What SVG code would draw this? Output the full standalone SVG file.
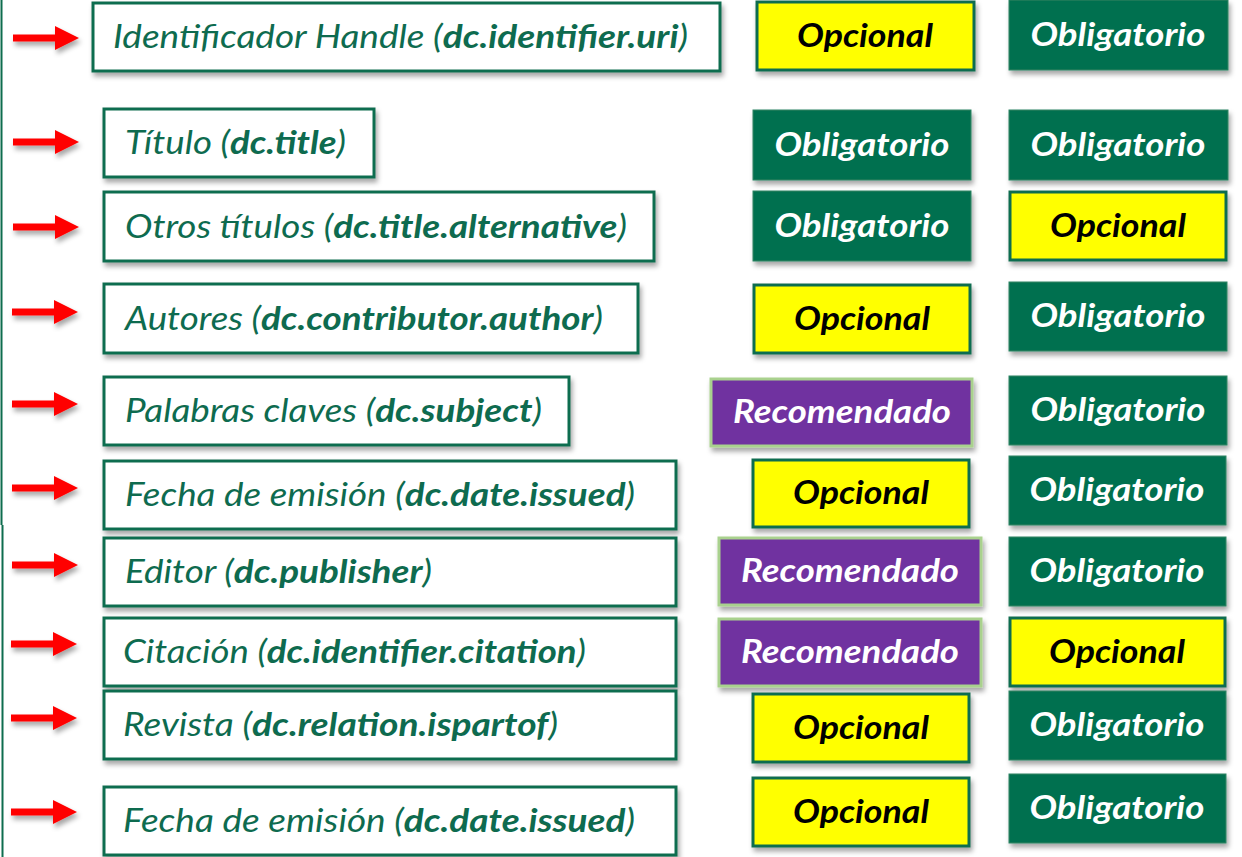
<svg xmlns="http://www.w3.org/2000/svg" xmlns:xlink="http://www.w3.org/1999/xlink" width="1242" height="857" viewBox="0 0 1242 857">
<style>
.box{fill:#fff;stroke:#0e6d4f;stroke-width:3;filter:url(#sh)}
.lbl{font-family:Lato,"Open Sans","Liberation Sans",sans-serif;font-style:italic;font-size:33px;fill:#0e6b4f}
.lbl tspan.b{font-weight:bold}
.g{fill:#06704f;stroke:#2f8464;stroke-width:1;filter:url(#sh)}
.y{fill:#ffff00;stroke:#0e6d4f;stroke-width:3;filter:url(#sh)}
.p{fill:#7030a0;stroke:#a9d18e;stroke-width:3;filter:url(#sh)}
.bt{font-family:Lato,"Open Sans","Liberation Sans",sans-serif;font-style:italic;font-weight:bold;font-size:33px;text-anchor:middle}
.w{fill:#fff}.k{fill:#000}
.arr{fill:#ff0000;filter:url(#sh)}
</style>
<defs>
<filter id="sh" x="-10%" y="-20%" width="130%" height="150%">
<feDropShadow dx="2" dy="4" stdDeviation="2.5" flood-color="#000" flood-opacity="0.35"/>
</filter>
<path id="arrow" d="M0,-3.5 H42 V-12 L66,0 L42,12 V3.5 H0 Z"/>
</defs>
<rect width="1242" height="857" fill="#fff"/>
<path d="M1.5,0 V525 M2.5,525 V857" stroke="#0e6d4f" stroke-width="2" fill="none"/>

<g id="connectors">
<use xlink:href="#arrow" class="arr" x="13" y="38"/>
<use xlink:href="#arrow" class="arr" x="13" y="142"/>
<use xlink:href="#arrow" class="arr" x="13" y="227"/>
<use xlink:href="#arrow" class="arr" x="12" y="312"/>
<use xlink:href="#arrow" class="arr" x="12" y="404"/>
<use xlink:href="#arrow" class="arr" x="12" y="488"/>
<use xlink:href="#arrow" class="arr" x="12" y="565"/>
<use xlink:href="#arrow" class="arr" x="11" y="644"/>
<use xlink:href="#arrow" class="arr" x="11" y="718"/>
<use xlink:href="#arrow" class="arr" x="11" y="812"/>
</g>

<g id="f1"><rect class="box" x="93" y="3" width="627" height="68"/><text class="lbl" x="113" y="48" textLength="575" lengthAdjust="spacingAndGlyphs">Identificador Handle (<tspan class="b">dc.identifier.uri</tspan>)</text></g>
<g id="f2"><rect class="box" x="104" y="109" width="270" height="68"/><text class="lbl" x="125" y="154" textLength="221" lengthAdjust="spacingAndGlyphs">Título (<tspan class="b">dc.title</tspan>)</text></g>
<g id="f3"><rect class="box" x="104" y="192" width="550" height="69"/><text class="lbl" x="125" y="238" textLength="502" lengthAdjust="spacingAndGlyphs">Otros títulos (<tspan class="b">dc.title.alternative</tspan>)</text></g>
<g id="f4"><rect class="box" x="104" y="284" width="534" height="69"/><text class="lbl" x="125" y="330" textLength="478" lengthAdjust="spacingAndGlyphs">Autores (<tspan class="b">dc.contributor.author</tspan>)</text></g>
<g id="f5"><rect class="box" x="104" y="377" width="465" height="68"/><text class="lbl" x="125" y="422" textLength="417" lengthAdjust="spacingAndGlyphs">Palabras claves (<tspan class="b">dc.subject</tspan>)</text></g>
<g id="f6"><rect class="box" x="104" y="461" width="572" height="68"/><text class="lbl" x="125" y="506" textLength="510" lengthAdjust="spacingAndGlyphs">Fecha de emisión (<tspan class="b">dc.date.issued</tspan>)</text></g>
<g id="f7"><rect class="box" x="104" y="538" width="572" height="68"/><text class="lbl" x="125" y="583" textLength="307" lengthAdjust="spacingAndGlyphs">Editor (<tspan class="b">dc.publisher</tspan>)</text></g>
<g id="f8"><rect class="box" x="104" y="618" width="572" height="68"/><text class="lbl" x="123" y="663" textLength="463" lengthAdjust="spacingAndGlyphs">Citación (<tspan class="b">dc.identifier.citation</tspan>)</text></g>
<g id="f9"><rect class="box" x="104" y="691" width="572" height="68"/><text class="lbl" x="123" y="736" textLength="435" lengthAdjust="spacingAndGlyphs">Revista (<tspan class="b">dc.relation.ispartof</tspan>)</text></g>
<g id="f10"><rect class="box" x="104" y="787" width="572" height="68"/><text class="lbl" x="123" y="832" textLength="512" lengthAdjust="spacingAndGlyphs">Fecha de emisión (<tspan class="b">dc.date.issued</tspan>)</text></g>

<g id="m1"><rect class="y" x="757" y="2" width="217" height="68"/><text class="bt k" x="865" y="47" textLength="136" lengthAdjust="spacingAndGlyphs">Opcional</text></g>
<g id="m2"><rect class="g" x="753" y="110" width="218" height="70"/><text class="bt w" x="862" y="156" textLength="175" lengthAdjust="spacingAndGlyphs">Obligatorio</text></g>
<g id="m3"><rect class="g" x="753" y="191" width="218" height="70"/><text class="bt w" x="862" y="237" textLength="175" lengthAdjust="spacingAndGlyphs">Obligatorio</text></g>
<g id="m4"><rect class="y" x="754" y="285" width="216" height="68"/><text class="bt k" x="862" y="330" textLength="136" lengthAdjust="spacingAndGlyphs">Opcional</text></g>
<g id="m5"><rect class="p" x="711" y="379" width="261" height="67"/><text class="bt w" x="842" y="423" textLength="218" lengthAdjust="spacingAndGlyphs">Recomendado</text></g>
<g id="m6"><rect class="y" x="753" y="460" width="216" height="67"/><text class="bt k" x="861" y="504" textLength="136" lengthAdjust="spacingAndGlyphs">Opcional</text></g>
<g id="m7"><rect class="p" x="719" y="538" width="262" height="67"/><text class="bt w" x="850" y="582" textLength="218" lengthAdjust="spacingAndGlyphs">Recomendado</text></g>
<g id="m8"><rect class="p" x="719" y="619" width="262" height="67"/><text class="bt w" x="850" y="663" textLength="218" lengthAdjust="spacingAndGlyphs">Recomendado</text></g>
<g id="m9"><rect class="y" x="753" y="694" width="216" height="68"/><text class="bt k" x="861" y="739" textLength="136" lengthAdjust="spacingAndGlyphs">Opcional</text></g>
<g id="m10"><rect class="y" x="753" y="778" width="216" height="68"/><text class="bt k" x="861" y="823" textLength="136" lengthAdjust="spacingAndGlyphs">Opcional</text></g>

<g id="r1"><rect class="g" x="1009" y="0" width="219" height="70"/><text class="bt w" x="1118" y="46" textLength="175" lengthAdjust="spacingAndGlyphs">Obligatorio</text></g>
<g id="r2"><rect class="g" x="1009" y="110" width="219" height="70"/><text class="bt w" x="1118" y="156" textLength="175" lengthAdjust="spacingAndGlyphs">Obligatorio</text></g>
<g id="r3"><rect class="y" x="1010" y="192" width="216" height="68"/><text class="bt k" x="1118" y="237" textLength="136" lengthAdjust="spacingAndGlyphs">Opcional</text></g>
<g id="r4"><rect class="g" x="1009" y="282" width="218" height="69"/><text class="bt w" x="1118" y="327" textLength="175" lengthAdjust="spacingAndGlyphs">Obligatorio</text></g>
<g id="r5"><rect class="g" x="1009" y="376" width="218" height="69"/><text class="bt w" x="1118" y="421" textLength="175" lengthAdjust="spacingAndGlyphs">Obligatorio</text></g>
<g id="r6"><rect class="g" x="1009" y="456" width="217" height="69"/><text class="bt w" x="1117" y="501" textLength="175" lengthAdjust="spacingAndGlyphs">Obligatorio</text></g>
<g id="r7"><rect class="g" x="1009" y="537" width="217" height="69"/><text class="bt w" x="1117" y="582" textLength="175" lengthAdjust="spacingAndGlyphs">Obligatorio</text></g>
<g id="r8"><rect class="y" x="1010" y="618" width="215" height="68"/><text class="bt k" x="1117" y="663" textLength="136" lengthAdjust="spacingAndGlyphs">Opcional</text></g>
<g id="r9"><rect class="g" x="1009" y="691" width="217" height="69"/><text class="bt w" x="1117" y="736" textLength="175" lengthAdjust="spacingAndGlyphs">Obligatorio</text></g>
<g id="r10"><rect class="g" x="1009" y="774" width="217" height="69"/><text class="bt w" x="1117" y="819" textLength="175" lengthAdjust="spacingAndGlyphs">Obligatorio</text></g>
</svg>
